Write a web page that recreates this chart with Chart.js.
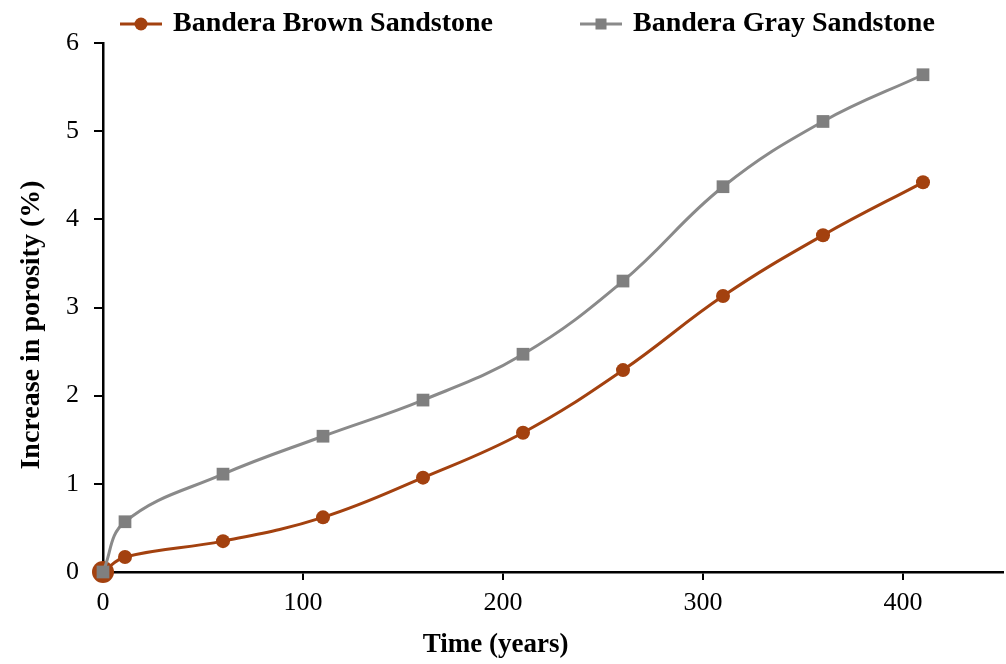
<!DOCTYPE html>
<html><head><meta charset="utf-8">
<script src="https://cdn.jsdelivr.net/npm/chart.js@4/dist/chart.umd.min.js"></script>
<style>html,body{margin:0;padding:0;background:#fff;overflow:hidden}canvas{display:block}</style>
</head><body><canvas id="c" width="1006" height="664" style="width:1006px;height:664px"></canvas>
<script>
const years = [0, 11, 60, 110, 160, 210, 260, 310, 360, 410];
const brownPorosity = [0, 0.17, 0.35, 0.62, 1.07, 1.58, 2.29, 3.13, 3.82, 4.42];
const grayPorosity = [0, 0.57, 1.11, 1.54, 1.95, 2.47, 3.30, 4.37, 5.11, 5.64];
const seriesNames = ['Bandera Brown Sandstone', 'Bandera Gray Sandstone'];
const xTicks = [0, 100, 200, 300, 400];
const yTicks = [0, 1, 2, 3, 4, 5, 6];
const xTitle = 'Time (years)';
const yTitle = 'Increase in porosity (%)';

const BROWN = '#A3410F';
const GRAY = '#8A8A8A';
const GRAY_MARK = '#7F7F7F';
const FONT = '"Liberation Serif", "Times New Roman", serif';

function legendIcon(color, markColor, shape) {
  const c = document.createElement('canvas');
  c.width = 42; c.height = 14;
  const g = c.getContext('2d');
  g.strokeStyle = color; g.lineWidth = 3;
  g.beginPath(); g.moveTo(0, 7); g.lineTo(42, 7); g.stroke();
  g.fillStyle = markColor;
  if (shape === 'circle') { g.beginPath(); g.arc(21, 7, 6.5, 0, Math.PI * 2); g.fill(); }
  else { g.fillRect(15.5, 1.5, 11, 11); }
  return c;
}
const icons = [legendIcon(BROWN, BROWN, 'circle'), legendIcon(GRAY, GRAY_MARK, 'rect')];

const legendHeightFix = {
  id: 'legendHeightFix',
  beforeLayout(chart) {
    const lg = chart.legend;
    if (lg && !lg.__wrapped) {
      const f = lg.fit;
      lg.fit = function () { f.apply(this, arguments); this.height = 53; };
      lg.__wrapped = true;
    }
  }
};

const toPts = (ys) => years.map((x, i) => ({ x: x, y: ys[i] }));

new Chart(document.getElementById('c'), {
  type: 'line',
  plugins: [legendHeightFix],
  data: {
    datasets: [
      {
        label: seriesNames[0], data: toPts(brownPorosity), order: 2, clip: false,
        borderColor: BROWN, backgroundColor: BROWN, borderWidth: 3,
        pointStyle: 'circle', pointRadius: brownPorosity.map((v, i) => i === 0 ? 11 : 7),
        pointBorderWidth: 0, tension: 0.4, fill: false
      },
      {
        label: seriesNames[1], data: toPts(grayPorosity), order: 1, clip: false,
        borderColor: GRAY, backgroundColor: GRAY_MARK, borderWidth: 3,
        pointStyle: 'rect', pointRadius: 9,
        pointBorderWidth: 0, tension: 0.4, fill: false
      }
    ]
  },
  options: {
    responsive: false, animation: false, devicePixelRatio: 1,
    layout: { autoPadding: false, padding: { top: -10, right: 3, left: 0, bottom: 0 } },
    plugins: {
      tooltip: { enabled: false },
      legend: {
        position: 'top', fullSize: false, align: 'start',
        labels: {
          usePointStyle: true, pointStyleWidth: 36, padding: 20, color: '#000',
          font: { family: FONT, size: 28, weight: 'bold' },
          generateLabels: (chart) => chart.data.datasets.map((ds, i) => ({
            text: i === 0 ? ds.label + '\u00A0'.repeat(10) : ds.label,
            fillStyle: ds.borderColor, strokeStyle: ds.borderColor, lineWidth: 0,
            pointStyle: icons[i], datasetIndex: i, hidden: false, fontColor: '#000'
          }))
        }
      }
    },
    scales: {
      x: {
        type: 'linear', min: 0, max: 450,
        afterBuildTicks: (ax) => { ax.ticks = xTicks.map(v => ({ value: v })); },
        afterFit: (ax) => { ax.height = 92; ax.paddingRight = 0; },
        grid: { display: true, drawOnChartArea: false, drawTicks: true, tickLength: 8, color: '#000', lineWidth: 2 },
        border: { display: true, color: '#000', width: 2.5 },
        ticks: { color: '#000', font: { family: FONT, size: 26 }, padding: 8, maxRotation: 0 },
        title: { display: true, text: xTitle + '\u00A0'.repeat(17), color: '#000', font: { family: FONT, size: 27, weight: 'bold' }, padding: { top: 4, bottom: 3 } }
      },
      y: {
        type: 'linear', min: 0, max: 6,
        afterBuildTicks: (ax) => { ax.ticks = yTicks.map(v => ({ value: v })); },
        afterFit: (ax) => { ax.width = 103; },
        grid: { display: true, drawOnChartArea: false, drawTicks: true, tickLength: 9, color: '#000', lineWidth: 2 },
        border: { display: true, color: '#000', width: 2.5 },
        ticks: { color: '#000', font: { family: FONT, size: 26 }, padding: 15 },
        title: { display: true, text: yTitle + '\u00A0'.repeat(5), color: '#000', font: { family: FONT, size: 28, weight: 'bold' }, padding: { top: 15, bottom: 4 } }
      }
    }
  }
});
</script>
</body></html>
